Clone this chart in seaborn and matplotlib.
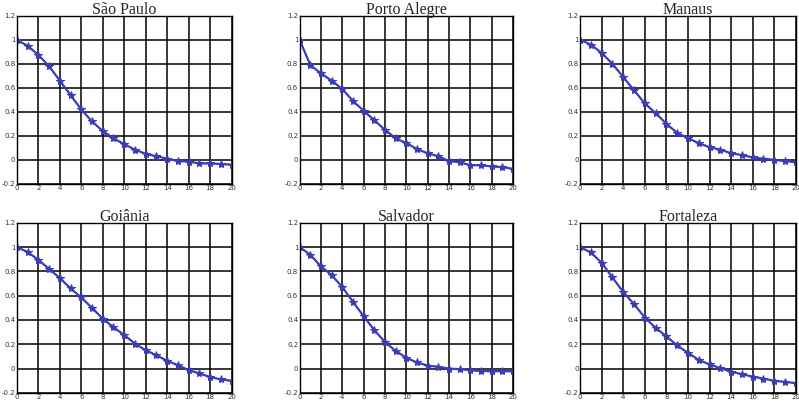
import numpy as np
import pandas as pd
import matplotlib
matplotlib.use("Agg")
import matplotlib.pyplot as plt
import seaborn as sns

# lags 0..20
lags = list(range(21))

sao_paulo = [1.0, 0.95, 0.875, 0.78, 0.66, 0.54, 0.42, 0.32, 0.24, 0.18, 0.13,
             0.085, 0.05, 0.03, 0.01, -0.01, -0.015, -0.03, -0.03, -0.035, -0.04]
porto_alegre = [1.0, 0.79, 0.72, 0.66, 0.59, 0.49, 0.41, 0.33, 0.25, 0.18, 0.14,
                0.09, 0.055, 0.03, -0.01, -0.02, -0.045, -0.045, -0.055, -0.06, -0.075]
manaus = [1.0, 0.96, 0.89, 0.80, 0.69, 0.58, 0.47, 0.39, 0.30, 0.225, 0.18,
          0.14, 0.105, 0.085, 0.055, 0.04, 0.02, 0.01, 0.0, -0.01, -0.02]
goiania = [1.0, 0.96, 0.895, 0.82, 0.745, 0.66, 0.585, 0.50, 0.41, 0.34, 0.275,
           0.205, 0.15, 0.11, 0.063, 0.028, -0.014, -0.04, -0.07, -0.09, -0.10]
salvador = [1.0, 0.937, 0.84, 0.77, 0.67, 0.55, 0.43, 0.317, 0.218, 0.146, 0.088,
            0.05, 0.025, 0.014, 0.0, -0.005, -0.014, -0.02, -0.022, -0.022, -0.022]
fortaleza = [1.0, 0.956, 0.87, 0.75, 0.63, 0.53, 0.42, 0.335, 0.265, 0.19, 0.13,
             0.07, 0.035, 0.003, -0.025, -0.047, -0.066, -0.083, -0.10, -0.11, -0.12]

titles = ["São Paulo", "Porto Alegre", "Manaus", "Goiânia", "Salvador", "Fortaleza"]
series = [sao_paulo, porto_alegre, manaus, goiania, salvador, fortaleza]

sns.set_style("white")

fig = plt.figure(figsize=(7.99, 4.05), dpi=100)

# posições dos painéis (esquerda, baixo, largura, altura)
lefts = [0.021, 0.375, 0.726]
widths = [0.269, 0.267, 0.270]
rows = [(0.546, 0.415), (0.030, 0.420)]

line_color = "#3a3db8"

for i, (title, vals) in enumerate(zip(titles, series)):
    r, c = divmod(i, 3)
    ax = fig.add_axes([lefts[c], rows[r][0], widths[c], rows[r][1]])
    df = pd.DataFrame({"lag": lags, "acf": vals})
    sns.lineplot(data=df, x="lag", y="acf", ax=ax, color=line_color,
                 linewidth=1.6, marker="*", markersize=6,
                 markeredgecolor=line_color, markerfacecolor=line_color)
    ax.set_xlim(0, 20)
    ax.set_ylim(-0.2, 1.2)
    ax.set_xticks(range(0, 21, 2))
    ax.set_yticks([-0.2, 0, 0.2, 0.4, 0.6, 0.8, 1.0, 1.2])
    ax.set_yticklabels(["-0.2", "0", "0.2", "0.4", "0.6", "0.8", "1", "1.2"])
    ax.grid(True, color="black", linewidth=1.1)
    ax.set_axisbelow(True)
    for s in ax.spines.values():
        s.set_color("black")
        s.set_linewidth(1.0)
    ax.tick_params(axis="both", labelsize=5, length=2, pad=1,
                   direction="in", colors="black", labelcolor="#333333")
    ax.set_xlabel("")
    ax.set_ylabel("")
    ax.set_title(title, family="Liberation Serif", fontsize=11.5, pad=1)

fig.savefig("out.png", dpi=100)
